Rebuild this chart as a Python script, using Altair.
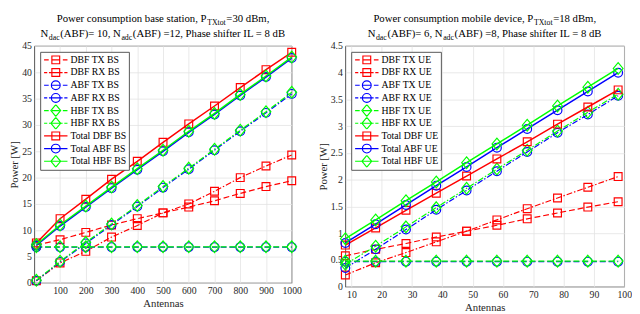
import altair as alt
import pandas as pd

FONT = "'Liberation Serif', 'Times New Roman', Times, serif"

# ---------------- data ----------------
ANT_BS = [8, 100, 200, 300, 400, 500, 600, 700, 800, 900, 1000]
DBF_TX_BS = [7.2, 8.2, 9.6, 11.0, 12.2, 13.3, 14.4, 15.6, 17.0, 18.3, 19.4]
DBF_RX_BS = [0.4, 3.8, 6.0, 8.7, 10.9, 13.3, 15.0, 17.4, 20.0, 22.2, 24.3]
ABF_TX_BS = [6.8, 6.8, 6.8, 6.8, 6.8, 6.8, 6.8, 6.8, 6.8, 6.8, 6.8]
ABF_RX_BS = [0.4, 4.0, 7.5, 11.0, 14.5, 18.1, 21.6, 25.2, 28.8, 32.3, 35.9]
HBF_TX_BS = [6.85, 6.85, 6.85, 6.85, 6.85, 6.85, 6.85, 6.85, 6.85, 6.85, 6.85]
HBF_RX_BS = [0.5, 4.1, 7.7, 11.2, 14.7, 18.3, 21.8, 25.4, 29.0, 32.5, 36.2]
TOT_DBF_BS = [7.6, 12.2, 15.9, 19.7, 23.1, 26.7, 30.2, 33.6, 37.1, 40.5, 43.8]
TOT_ABF_BS = [7.1, 10.8, 14.4, 18.0, 21.5, 25.0, 28.6, 32.0, 35.6, 39.1, 42.7]
TOT_HBF_BS = [7.3, 11.0, 14.6, 18.2, 21.7, 25.2, 28.8, 32.2, 35.8, 39.3, 42.9]

ANT_UE = [8, 18, 28, 38, 48, 58, 68, 78, 88, 98]
DBF_TX_UE = [0.58, 0.70, 0.81, 0.93, 1.04, 1.15, 1.27, 1.38, 1.49, 1.59]
DBF_RX_UE = [0.22, 0.45, 0.64, 0.84, 1.04, 1.25, 1.46, 1.66, 1.86, 2.06]
ABF_TX_UE = [0.47, 0.47, 0.47, 0.47, 0.47, 0.47, 0.47, 0.47, 0.47, 0.47]
ABF_RX_UE = [0.35, 0.70, 1.07, 1.44, 1.80, 2.16, 2.52, 2.88, 3.22, 3.57]
HBF_TX_UE = [0.48, 0.48, 0.48, 0.48, 0.48, 0.48, 0.48, 0.48, 0.48, 0.48]
HBF_RX_UE = [0.42, 0.76, 1.12, 1.48, 1.84, 2.20, 2.55, 2.91, 3.26, 3.60]
TOT_DBF_UE = [0.78, 1.10, 1.43, 1.75, 2.07, 2.39, 2.71, 3.04, 3.36, 3.68]
TOT_ABF_UE = [0.82, 1.17, 1.53, 1.89, 2.24, 2.60, 2.95, 3.30, 3.65, 4.00]
TOT_HBF_UE = [0.90, 1.25, 1.61, 1.96, 2.32, 2.67, 3.02, 3.38, 3.73, 4.08]

NAMES_BS = ["DBF TX BS", "DBF RX BS", "ABF TX BS", "ABF RX BS", "HBF TX BS",
            "HBF RX BS", "Total DBF BS", "Total ABF BS", "Total HBF BS"]
NAMES_UE = ["DBF TX UE", "DBF RX UE", "ABF TX UE", "ABF RX UE", "HBF TX UE",
            "HBF RX UE", "Total DBF UE", "Total ABF UE", "Total HBF UE"]

XTICKS_BS = [100, 200, 300, 400, 500, 600, 700, 800, 900, 1000]
YTICKS_BS = [0, 5, 10, 15, 20, 25, 30, 35, 40, 45]
XTICKS_UE = [10, 20, 30, 40, 50, 60, 70, 80, 90, 100]
YTICKS_UE = [0, 0.5, 1, 1.5, 2, 2.5, 3, 3.5, 4, 4.5]

TITLE_BS = [
    [("Power consumption base station, P", False), ("TXtot", True), ("=30 dBm,", False)],
    [("N", False), ("dac", True), ("(ABF)= 10, N", False), ("adc", True),
     ("(ABF) =12, Phase shifter IL = 8 dB", False)],
]
TITLE_UE = [
    [("Power consumption mobile device, P", False), ("TXtot", True), ("=18 dBm,", False)],
    [("N", False), ("dac", True), ("(ABF)= 6, N", False), ("adc", True),
     ("(ABF) =8, Phase shifter IL = 8 dB", False)],
]

# ---------------- styles ----------------
RED, BLUE, GREEN = "#ff0000", "#0000ff", "#00ff00"
STYLE = [(RED, "tx", "square"), (RED, "rx", "square"),
         (BLUE, "tx", "circle"), (BLUE, "rx", "circle"),
         (GREEN, "tx", "diamond"), (GREEN, "rx", "diamond"),
         (RED, "total", "square"), (BLUE, "total", "circle"), (GREEN, "total", "diamond")]
DASH = {"tx": [6, 3], "rx": [6, 2, 1.5, 2]}
LW = {"tx": 1.2, "rx": 1.2, "total": 1.5}
MARK_SHAPE = {"square": "square", "circle": "circle", "diamond": "M0,-1.2L1,0L0,1.2L-1,0Z"}
MARK_SIZE = {"square": 64, "circle": 81, "diamond": 100}

LEG_LINE = {"tx": "M-2.4,0H-1.45M-0.8,0H0.8M1.45,0H2.4",
            "rx": "M-2.4,0H-1.75M-1.4,0H1.4M1.75,0H2.4",
            "total": "M-2.4,0H2.4"}
LEG_MARK = {"square": "M-0.8,-0.8H0.8V0.8H-0.8Z",
            "circle": "M0.9,0A0.9,0.9,0,1,1,-0.9,0A0.9,0.9,0,1,1,0.9,0",
            "diamond": "M0,-1.2L1,0L0,1.2L-1,0Z"}

TW = {' ': 250, '(': 333, ')': 333, ',': 250, '-': 333, '.': 250, '=': 564, '[': 333, ']': 333,
      'A': 722, 'B': 667, 'C': 667, 'D': 722, 'E': 611, 'F': 556, 'G': 722, 'H': 722, 'I': 333,
      'L': 611, 'M': 889, 'N': 722, 'O': 722, 'P': 556, 'S': 556, 'T': 611, 'U': 722, 'W': 944,
      'X': 722, 'a': 444, 'b': 500, 'c': 444, 'd': 500, 'e': 444, 'f': 333, 'g': 500, 'h': 500,
      'i': 278, 'l': 278, 'm': 778, 'n': 500, 'o': 500, 'p': 500, 'r': 333, 's': 389, 't': 278,
      'u': 500, 'v': 500, 'w': 722, 'x': 500}
TITLE_FS, SUB_FS, SUB_DY, SUB_GAP = 11, 8, 3, 0.6
BASELINES = [-25, -9]
ONE = pd.DataFrame({"k": [0]})


def tw(s, fs):
    return sum(TW.get(c, 500) for c in s) / 1000 * fs


def title_layers(lines, width):
    out = []
    for segs, base in zip(lines, BASELINES):
        total = sum(tw(t, SUB_FS if sub else TITLE_FS) + (2 * SUB_GAP if sub else 0)
                    for t, sub in segs)
        x = width / 2 - total / 2
        for t, sub in segs:
            fs = SUB_FS if sub else TITLE_FS
            if sub:
                x += SUB_GAP
            out.append(
                alt.Chart(ONE).mark_text(align="left", baseline="alphabetic", font=FONT,
                                         fontSize=fs, color="black")
                .encode(x=alt.value(x), y=alt.value(base + (SUB_DY if sub else 0)),
                        text=alt.value(t)))
            x += tw(t, fs) + (SUB_GAP if sub else 0)
    return out


def panel(ant, series, names, xdom, xticks, ydom, yticks, width, height, title):
    rows = []
    for name, vals in zip(names, series):
        for a, v in zip(ant, vals):
            rows.append({"ant": a, "p": v, "series": name})
    df = pd.DataFrame(rows)
    X = alt.X("ant:Q", scale=alt.Scale(domain=xdom, nice=False, zero=False),
              axis=alt.Axis(values=xticks, title="Antennas", format="d"))
    Y = alt.Y("p:Q", scale=alt.Scale(domain=ydom, nice=False),
              axis=alt.Axis(values=yticks, title="Power [W]", format="~g"))
    layers = []
    for name, (color, kind, marker) in zip(names, STYLE):
        base = alt.Chart(df).transform_filter(alt.datum.series == name)
        lk = dict(color=color, strokeWidth=LW[kind])
        if kind in DASH:
            lk["strokeDash"] = DASH[kind]
        layers.append(base.mark_line(**lk).encode(x=X, y=Y))
        layers.append(base.mark_point(shape=MARK_SHAPE[marker], size=MARK_SIZE[marker],
                                      filled=False, color=color, strokeWidth=1.2,
                                      opacity=1).encode(x=X, y=Y))
    leg = alt.Legend(title=None, orient="top-left", offset=6, padding=2,
                     fillColor="white", strokeColor="#555555",
                     labelFont=FONT, labelFontSize=10, labelColor="black",
                     symbolSize=100, symbolStrokeWidth=1.2, symbolOffset=8,
                     labelOffset=9, clipHeight=12.5, rowPadding=0,
                     symbolOpacity=1, symbolFillColor="transparent")
    paths = [LEG_LINE[k] + LEG_MARK[m] for _, k, m in STYLE]
    colors = [c for c, _, _ in STYLE]
    legend_layer = alt.Chart(df).mark_point(opacity=0, filled=False).encode(
        x=X, y=Y,
        color=alt.Color("series:N", scale=alt.Scale(domain=names, range=colors), legend=leg),
        shape=alt.Shape("series:N", scale=alt.Scale(domain=names, range=paths), legend=leg),
    )
    return alt.layer(*layers, legend_layer, *title_layers(title, width)).properties(
        width=width, height=height)


left = panel(ANT_BS,
             [DBF_TX_BS, DBF_RX_BS, ABF_TX_BS, ABF_RX_BS, HBF_TX_BS, HBF_RX_BS,
              TOT_DBF_BS, TOT_ABF_BS, TOT_HBF_BS],
             NAMES_BS, [0, 1000], XTICKS_BS, [0, 45], YTICKS_BS, 264, 243, TITLE_BS)
right = panel(ANT_UE,
              [DBF_TX_UE, DBF_RX_UE, ABF_TX_UE, ABF_RX_UE, HBF_TX_UE, HBF_RX_UE,
               TOT_DBF_UE, TOT_ABF_UE, TOT_HBF_UE],
              NAMES_UE, [8, 100], XTICKS_UE, [0, 4.5], YTICKS_UE, 286, 247, TITLE_UE)

chart = (
    alt.hconcat(left, right, spacing=15)
    .resolve_scale(color="independent", shape="independent")
    .properties(padding=0, background="white")
    .configure_view(stroke="#262626", strokeWidth=0.8)
    .configure_axis(grid=True, gridColor="#e3e3e3", gridWidth=0.8, ticks=False,
                    domain=False, labelFont=FONT, labelFontSize=10, labelColor="#262626",
                    titleFont=FONT, titleFontSize=11, titleFontWeight="normal",
                    titleColor="#262626", labelPadding=3, titlePadding=2,
                    labelFlush=False, labelOverlap=False)
)

chart.save("out.html", embed_options={"renderer": "svg", "actions": False})
